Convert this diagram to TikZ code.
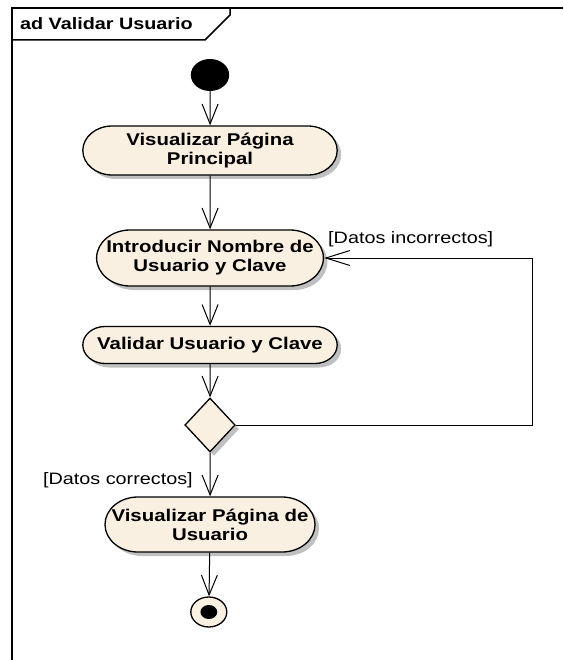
\documentclass[tikz,border=0pt]{standalone}
\usepackage{fontspec}
\setmainfont{Liberation Sans}
\usetikzlibrary{shapes.misc,shapes.geometric,arrows.meta,shadows}
\definecolor{actfill}{RGB}{250,240,226}
\definecolor{shadowgray}{RGB}{192,192,192}
\tikzset{
  shad/.style={drop shadow={shadow xshift=4pt, shadow yshift=-4pt, fill=shadowgray, opacity=1}},
  act/.style={rounded rectangle, draw, line width=1.3pt, fill=actfill, shad,
    font=\fontsize{17}{19}\selectfont\bfseries, align=center, inner sep=0pt, transform shape},
  decision/.style={diamond, draw, line width=1.3pt, fill=actfill, shad, inner sep=0pt,
    minimum width=42pt, minimum height=54pt, transform shape},
  flow/.style={line width=1pt, -{Straight Barb[length=20pt,width=16pt,line width=1pt]}},
  flowh/.style={line width=1pt, -{Straight Barb[length=24pt,width=15pt,line width=1pt]}},
  guard/.style={font=\fontsize{16.5}{19}\selectfont, inner sep=0pt, transform shape},
  frame/.style={line width=1.5pt}
}
\begin{document}
\begin{tikzpicture}[x=1pt,y=-1pt]
\begin{scope}[xscale=1.2]
\useasboundingbox (0,0) rectangle (469.17,660);
% frame
\draw[frame] (10,660) -- (10,8) -- (469.17,8);
\draw[frame] (10,40) -- (170.8,40) -- (191.7,15) -- (191.7,8);
\node[anchor=west, inner sep=0pt, transform shape, font=\fontsize{16.5}{19}\selectfont\bfseries] (title) at (16.5,24) {ad Validar Usuario};
% nodes
\node[circle, fill=black, minimum size=32pt, inner sep=0pt, transform shape] (ini) at (175,75) {};
\node[act, minimum width=212pt, minimum height=49pt] (b1) at (175,150.5) {Visualizar Página\\Principal};
\node[act, minimum width=189pt, minimum height=56pt] (b2) at (175,258) {Introducir Nombre de\\Usuario y Clave};
\node[act, minimum width=212pt, minimum height=37pt] (b3) at (175,345) {Validar Usuario y Clave};
\node[decision] (dec) at (175,425) {};
\node[act, minimum width=175pt, minimum height=55pt] (b5) at (175,524.5) {Visualizar Página de\\Usuario};
\node[circle, draw, line width=1.3pt, fill=actfill, minimum size=30pt, inner sep=0pt, transform shape] (fin) at (174,612) {};
\node[circle, fill=black, minimum size=14pt, inner sep=0pt, transform shape] (fininner) at (fin.center) {};
\coordinate (lp) at (444,425);
% connectors
\draw[flow] (ini) -- (b1);
\draw[flow] (b1) -- (b2);
\draw[flow] (b2) -- (b3);
\draw[flow] (b3) -- (dec);
\draw[flow] (dec) -- (b5);
\draw[flow] (b5) -- (fin);
\draw[flowh] (dec.east) -- (lp) |- (b2.east);
% guards
\node[guard, anchor=west] (gi) at (273.3,239) {[Datos incorrectos]};
\node[guard, anchor=east] (gc) at (160.8,480) {[Datos correctos]};
\end{scope}
\end{tikzpicture}
\end{document}
